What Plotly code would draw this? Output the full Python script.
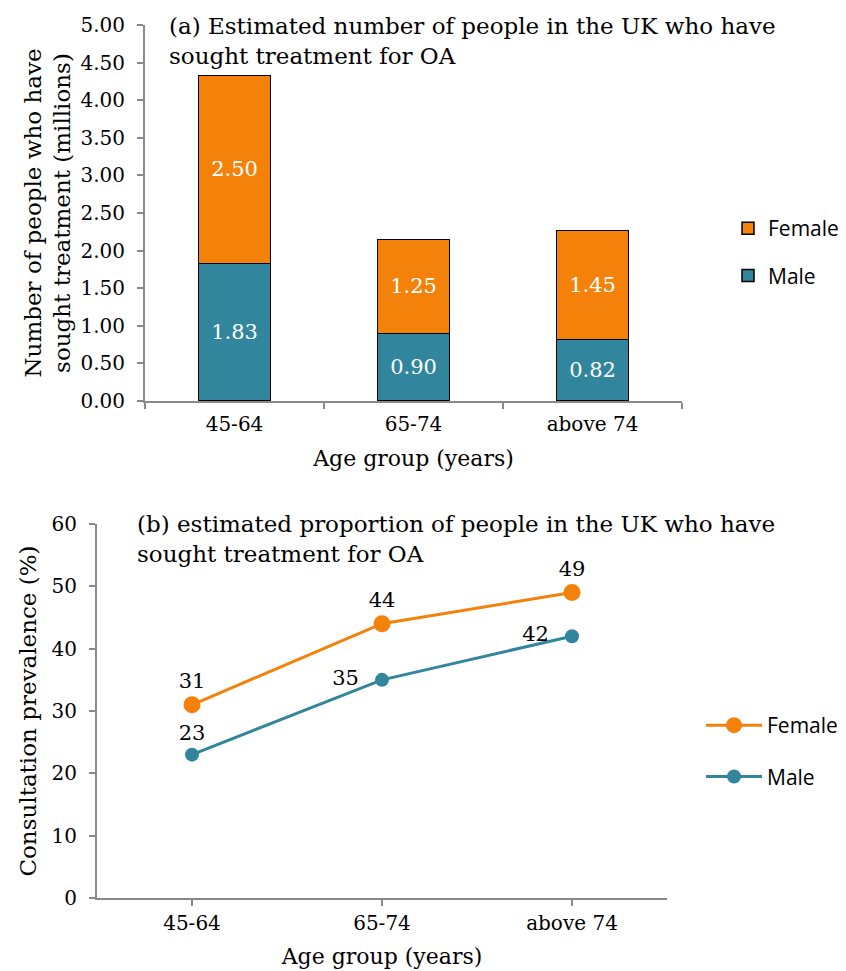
import plotly.graph_objects as go

age_groups = ["45-64", "65-74", "above 74"]

# (a) people who sought treatment, millions
male_millions = [1.83, 0.90, 0.82]
female_millions = [2.50, 1.25, 1.45]

# (b) consultation prevalence, %
female_pct = [31, 44, 49]
male_pct = [23, 35, 42]
male_label_pos = ["top center", "middle left", "middle left"]

TEAL = "#31859C"
ORANGE = "#F4820A"
AXIS_GREY = "#898989"
SERIF = "DejaVu Serif"
SANS = "Open Sans"

# page body adds an 8px offset, so the figure is a bit smaller than the window
PAGE_OFF = 8
W, H = 838, 963


def px_x(v):
    return (v - PAGE_OFF) / W


def px_y(v):
    return 1 - (v - PAGE_OFF) / H


fig = go.Figure()

fig.add_bar(
    x=age_groups, y=male_millions, name="Male",
    marker=dict(color=TEAL, line=dict(color="black", width=1.5)),
    texttemplate="%{y:.2f}", textposition="inside", insidetextanchor="middle",
    textfont=dict(family=SERIF, size=21, color="white"),
    xaxis="x", yaxis="y", legend="legend", legendgroup="m", legendrank=2,
)
fig.add_bar(
    x=age_groups, y=female_millions, name="Female",
    marker=dict(color=ORANGE, line=dict(color="black", width=1.5)),
    texttemplate="%{y:.2f}", textposition="inside", insidetextanchor="middle",
    textfont=dict(family=SERIF, size=21, color="white"),
    xaxis="x", yaxis="y", legend="legend", legendgroup="f", legendrank=1,
)

fig.add_scatter(
    x=age_groups, y=female_pct, name="Female", mode="lines+markers+text",
    line=dict(color=ORANGE, width=3), marker=dict(color=ORANGE, size=17),
    text=[str(v) for v in female_pct], textposition="top center",
    textfont=dict(family=SERIF, size=21, color="black"), cliponaxis=False,
    xaxis="x2", yaxis="y2", legend="legend2", legendgroup="f2", legendrank=1,
)
fig.add_scatter(
    x=age_groups, y=male_pct, name="Male", mode="lines+markers+text",
    line=dict(color=TEAL, width=3), marker=dict(color=TEAL, size=14),
    text=[str(v) + "\u00a0\u00a0" if p != "top center" else str(v)
          for v, p in zip(male_pct, male_label_pos)],
    textposition=male_label_pos,
    textfont=dict(family=SERIF, size=21, color="black"), cliponaxis=False,
    xaxis="x2", yaxis="y2", legend="legend2", legendgroup="m2", legendrank=2,
)

axis_common = dict(
    showline=True, linecolor=AXIS_GREY, linewidth=2,
    ticks="outside", tickcolor=AXIS_GREY, ticklen=6, tickwidth=1.5,
    showgrid=False, zeroline=False, automargin=False,
    tickfont=dict(family=SERIF, size=20, color="black"),
)
title_font = dict(family=SERIF, size=23, color="black")
xtitle_font = dict(family=SERIF, size=22, color="black")

fig.update_layout(
    width=W, height=H,
    margin=dict(l=0, r=0, t=0, b=0),
    plot_bgcolor="white", paper_bgcolor="white",
    barmode="stack", bargap=0.6,
    xaxis=dict(
        axis_common, domain=[px_x(145), px_x(682)], anchor="y",
        range=[-0.5, 2.5], tickson="boundaries", ticklabelstandoff=4,
        title=dict(text="Age group (years)", font=xtitle_font, standoff=16),
    ),
    yaxis=dict(
        axis_common, domain=[px_y(401), px_y(25)], anchor="x",
        range=[0, 5], dtick=0.5, tickformat=".2f", ticklabelstandoff=8,
        title=dict(text="Number of people who have<br>sought treatment (millions)",
                   font=title_font, standoff=3),
    ),
    xaxis2=dict(
        axis_common, domain=[px_x(97), px_x(667)], anchor="y2",
        range=[-0.5, 2.5],
        title=dict(text="Age group (years)", font=xtitle_font, standoff=15),
    ),
    yaxis2=dict(
        axis_common, domain=[px_y(898), px_y(524)], anchor="x2",
        range=[0, 60], dtick=10, ticklabelstandoff=8,
        title=dict(text="Consultation prevalence (%)", font=title_font, standoff=8),
    ),
    legend=dict(
        x=px_x(728), y=px_y(208), xanchor="left", yanchor="top",
        font=dict(family=SANS, size=21, color="black"),
        traceorder="grouped", tracegroupgap=17, bgcolor="rgba(0,0,0,0)",
    ),
    legend2=dict(
        x=px_x(701), y=px_y(705), xanchor="left", yanchor="top",
        font=dict(family=SANS, size=21, color="black"), itemwidth=56,
        traceorder="grouped", tracegroupgap=21, bgcolor="rgba(0,0,0,0)",
    ),
)

fig.add_annotation(
    text="(a) Estimated number of people in the UK who have<br>sought treatment for OA",
    xref="paper", yref="paper", x=px_x(167), y=px_y(11),
    xanchor="left", yanchor="top", align="left", showarrow=False,
    font=title_font,
)
fig.add_annotation(
    text="(b) estimated proportion of people in the UK who have<br>sought treatment for OA",
    xref="paper", yref="paper", x=px_x(135), y=px_y(509),
    xanchor="left", yanchor="top", align="left", showarrow=False,
    font=title_font,
)

fig.write_html("out.html")
